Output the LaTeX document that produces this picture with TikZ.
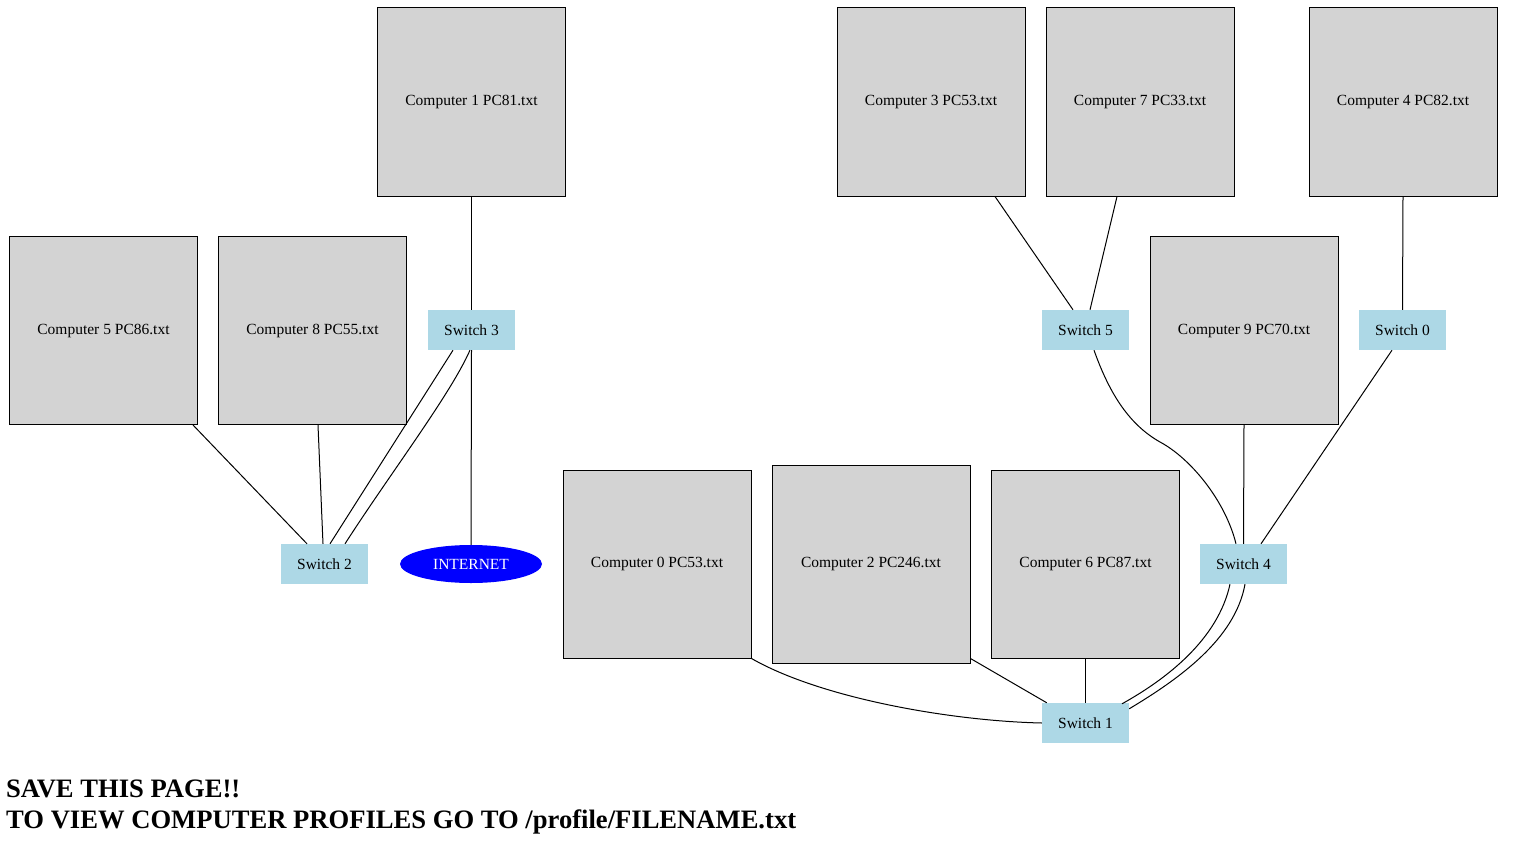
\documentclass[tikz,border=0pt]{standalone}
\usepackage{fontspec}
\setmainfont{Liberation Serif}
\usetikzlibrary{shapes.geometric}
\definecolor{boxgray}{HTML}{D3D3D3}
\definecolor{swblue}{HTML}{ADD8E6}
\definecolor{netblue}{HTML}{0000FF}
\begin{document}
\begin{tikzpicture}[x=1pt,y=-1pt,
  comp/.style={draw=black,line width=1pt,fill=boxgray,minimum width=188pt,minimum height=188pt,inner sep=0pt,font=\fontsize{15.5}{18}\selectfont},
  sw/.style={fill=swblue,minimum width=87pt,minimum height=40pt,inner sep=0pt,font=\fontsize{15.5}{18}\selectfont},
  net/.style={ellipse,fill=netblue,text=white,minimum width=142pt,minimum height=38pt,inner sep=0pt,font=\fontsize{15.5}{18}\selectfont},
  link/.style={draw=black,line width=1pt},
  note/.style={anchor=base west,inner sep=0pt,font=\fontsize{26.6}{30}\selectfont\bfseries}]
\useasboundingbox (0,0) rectangle (1529,867);
% computers
\node[comp] (c1) at (471.5,102) {Computer 1 PC81.txt};
\node[comp] (c3) at (931,102) {Computer 3 PC53.txt};
\node[comp] (c7) at (1140,102) {Computer 7 PC33.txt};
\node[comp] (c4) at (1403,102) {Computer 4 PC82.txt};
\node[comp] (c5) at (103.5,330.5) {Computer 5 PC86.txt};
\node[comp] (c8) at (312.5,330.5) {Computer 8 PC55.txt};
\node[comp] (c9) at (1244,330.5) {Computer 9 PC70.txt};
\node[comp] (c0) at (657,564) {Computer 0 PC53.txt};
\node[comp,minimum width=198pt,minimum height=198pt] (c2) at (871,564) {Computer 2 PC246.txt};
\node[comp] (c6) at (1085.5,564) {Computer 6 PC87.txt};
% switches
\node[sw] (s3) at (471.5,330) {Switch 3};
\node[sw] (s5) at (1085.5,330) {Switch 5};
\node[sw] (s0) at (1402.5,330) {Switch 0};
\node[sw] (s2) at (324.5,564) {Switch 2};
\node[sw] (s4) at (1243.5,564) {Switch 4};
\node[sw] (s1) at (1085.5,723) {Switch 1};
\node[net] (inet) at (471,564) {INTERNET};
\coordinate (m54) at (1160,442);
% links
\draw[link] (c1.south) -- (s3.north);
\draw[link] (s3.south) -- (inet.north);
\draw[link] ([xshift=-18.5pt]s3.south) -- ([xshift=5.5pt]s2.north);
\draw[link] ([xshift=-1.5pt]s3.south) .. controls +(-20,45) and +(45,-70) .. ([xshift=20.5pt]s2.north);
\draw[link] ([xshift=89.5pt]c5.south) -- ([xshift=-17.5pt]s2.north);
\draw[link] ([xshift=5.5pt]c8.south) -- ([xshift=-1.5pt]s2.north);
\draw[link] ([xshift=64pt]c3.south) -- ([xshift=-12.5pt]s5.north);
\draw[link] ([xshift=-23pt]c7.south) -- ([xshift=4.5pt]s5.north);
\draw[link] (c4.south) -- (s0.north);
\draw[link] ([xshift=8.5pt]s5.south) .. controls +(16,45) and +(-30,-17) .. (m54)
  .. controls +(30,16) and +(-11,-44) .. ([xshift=-7.5pt]s4.north);
\draw[link] (c9.south) -- (s4.north);
\draw[link] ([xshift=-10.5pt]s0.south) -- ([xshift=17.5pt]s4.north);
\draw[link] ([xshift=-13.5pt]s4.south) .. controls +(-12,55) and +(45,-25) .. ([xshift=36.5pt,yshift=-1pt]s1.north);
\draw[link] ([xshift=1.5pt]s4.south) .. controls +(-10,55) and +(50,-30) .. ([yshift=-6pt]s1.north east);
\draw[link] (c6.south) -- (s1.north);
\draw[link] ([yshift=5pt]c2.south east) -- ([xshift=5pt]s1.north west);
\draw[link] (c0.south east) .. controls +(70,40) and +(-90,-2) .. (s1.west);
% notes
\node[note] (n1) at (6,797) {SAVE THIS PAGE!!};
\node[note] (n2) at (6,828) {TO VIEW COMPUTER PROFILES GO TO /profile/FILENAME.txt};
\end{tikzpicture}
\end{document}
